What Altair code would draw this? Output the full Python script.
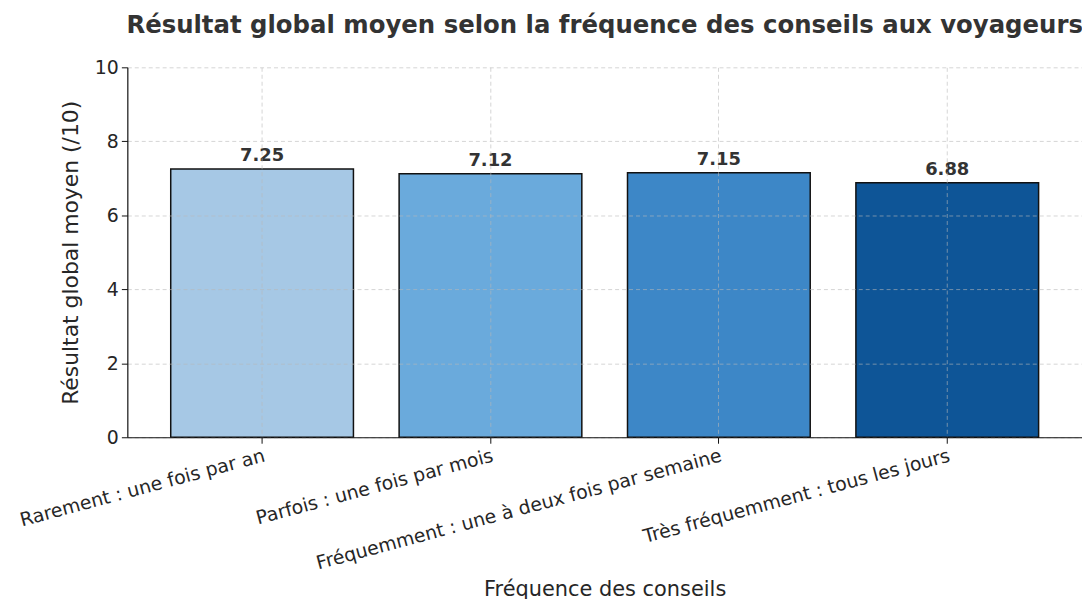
import altair as alt
import pandas as pd

categories = [
    "Rarement : une fois par an",
    "Parfois : une fois par mois",
    "Fréquemment : une à deux fois par semaine",
    "Très fréquemment : tous les jours",
]
values = [7.25, 7.12, 7.15, 6.88]
value_labels = ["7.25", "7.12", "7.15", "6.88"]
colors = ["#a6c8e5", "#6aaadc", "#3d87c7", "#0e5597"]
y_ticks = [0, 2, 4, 6, 8, 10]

df = pd.DataFrame({"cat": categories, "val": values, "label": value_labels})

FONT = "DejaVu Sans"

x = alt.X(
    "cat:N",
    sort=categories,
    title="Fréquence des conseils",
    scale=alt.Scale(paddingInner=0.2, paddingOuter=0.19),
    axis=alt.Axis(
        labelAngle=-15,
        labelAlign="right",
        labelBaseline="top",
        labelFontSize=19,
        labelPadding=3,
        labelLimit=0,
        titleFontSize=21,
        titleBaseline="alphabetic",
        titleY=159,
        bandPosition=0.5,
        grid=True,
        zindex=1,
    ),
)
y = alt.Y(
    "val:Q",
    title="Résultat global moyen (/10)",
    scale=alt.Scale(domain=[0, 10], nice=False),
    axis=alt.Axis(
        values=y_ticks,
        labelFontSize=19,
        labelPadding=3,
        titleFontSize=22,
        titlePadding=12,
        grid=True,
        zindex=1,
    ),
)

bars = alt.Chart(df).mark_bar(stroke="#111111", strokeWidth=1.5).encode(
    x=x,
    y=y,
    color=alt.Color("cat:N", scale=alt.Scale(domain=categories, range=colors), legend=None),
)

texts = alt.Chart(df).mark_text(
    dy=-8, baseline="alphabetic", fontWeight="bold", fontSize=18, color="#333333", font=FONT
).encode(
    x=alt.X("cat:N", sort=categories),
    y=alt.Y("val:Q"),
    text="label:N",
)

chart = (
    alt.layer(bars, texts)
    .properties(
        width=960,
        height=372,
        padding={"left": 120, "top": 58, "right": 0, "bottom": 162},
        autosize=alt.AutoSizeParams(type="none"),
        title=alt.TitleParams(
            "Résultat global moyen selon la fréquence des conseils aux voyageurs",
            fontSize=24.5,
            fontWeight="bold",
            color="#333333",
            font=FONT,
            anchor="middle",
            frame="group",
            baseline="alphabetic",
            offset=1,
        ),
    )
    .configure_view(strokeWidth=0)
    .configure_axis(
        labelFont=FONT,
        titleFont=FONT,
        labelColor="#262626",
        titleColor="#262626",
        titleFontWeight="normal",
        domainColor="#111111",
        domainWidth=1.2,
        tickColor="#111111",
        tickSize=6,
        gridColor="#b8b8b8",
        gridOpacity=0.6,
        gridDash=[4, 3],
        gridWidth=1,
    )
)

chart.save("out.html", embed_options={"renderer": "svg", "actions": False})
